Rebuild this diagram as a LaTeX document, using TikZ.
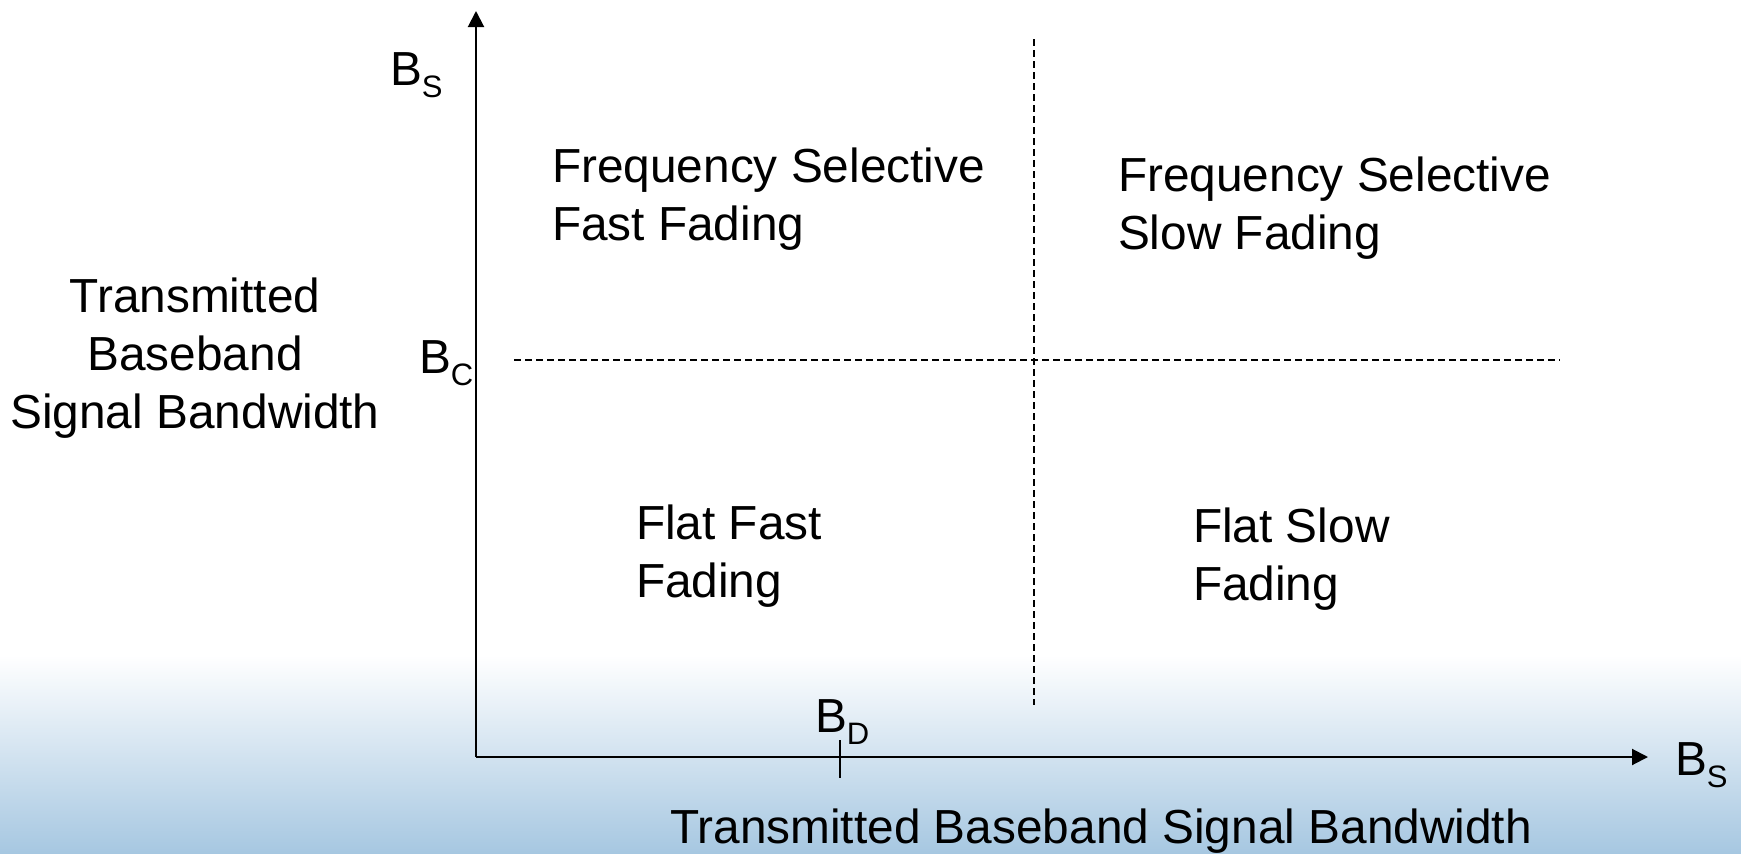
\documentclass[tikz,border=0pt]{standalone}
\usepackage{fontspec}
\setmainfont{Liberation Sans}
\usetikzlibrary{arrows.meta}
\definecolor{bgblue}{HTML}{A6C7E1}
\newcommand{\lowsub}[1]{\raisebox{-12pt}{\fontsize{31}{31}\selectfont #1}}
\tikzset{
  lbl/.style={inner sep=0pt, outer sep=0pt, font=\fontsize{47.8}{58}\selectfont},
  axis/.style={line width=2pt, -{Triangle[length=16pt,width=16pt]}},
  guide/.style={line width=1.3pt, dash pattern=on 7pt off 4pt},
}
\begin{document}
\begin{tikzpicture}[x=1pt,y=-1pt]
\useasboundingbox (0,0) rectangle (1741,854);
\fill[white] (0,0) rectangle (1741,656);
\shade[top color=white, bottom color=bgblue] (0,655) rectangle (1741,854);
% axes
\coordinate (O) at (476,757);
\coordinate (ytop) at (476,11);
\coordinate (xend) at (1648,757);
\draw[axis] (O) -- (ytop);
\draw[axis] (O) -- (xend);
% dashed guides
\coordinate (vtop) at (1034,39);
\coordinate (vbot) at (1034,705);
\coordinate (hl) at (514,360);
\coordinate (hr) at (1560,360);
\draw[guide] (vtop) -- (vbot);
\draw[guide] (hl) -- (hr);
% tick
\coordinate (tt) at (840,740);
\coordinate (tb) at (840,778);
\draw[line width=1.5pt] (tt) -- (tb);
% axis labels
\node[lbl, anchor=base west] (bsy) at (390,85) {B\lowsub{S}};
\node[lbl, anchor=base west] (bc) at (419,373) {B\lowsub{C}};
\node[lbl, anchor=base west] (bd) at (815,732) {B\lowsub{D}};
\node[lbl, anchor=base west] (bsx) at (1675,775) {B\lowsub{S}};
% quadrant labels (anchor base = baseline of last line)
\node[lbl, anchor=base west, align=left] (fsf) at (552,240) {Frequency Selective\\Fast Fading};
\node[lbl, anchor=base west, align=left] (fss) at (1118,249) {Frequency Selective\\Slow Fading};
\node[lbl, anchor=base west, align=left] (ff) at (636,597) {Flat Fast\\Fading};
\node[lbl, anchor=base west, align=left] (fs) at (1193,600) {Flat Slow\\Fading};
% axis titles
\node[lbl, anchor=base, align=center] (ytitle) at (195,428) {Transmitted\\Baseband\\Signal Bandwidth};
\node[lbl, anchor=base] (xtitle) at (1101,843) {Transmitted Baseband Signal Bandwidth};
\end{tikzpicture}
\end{document}
